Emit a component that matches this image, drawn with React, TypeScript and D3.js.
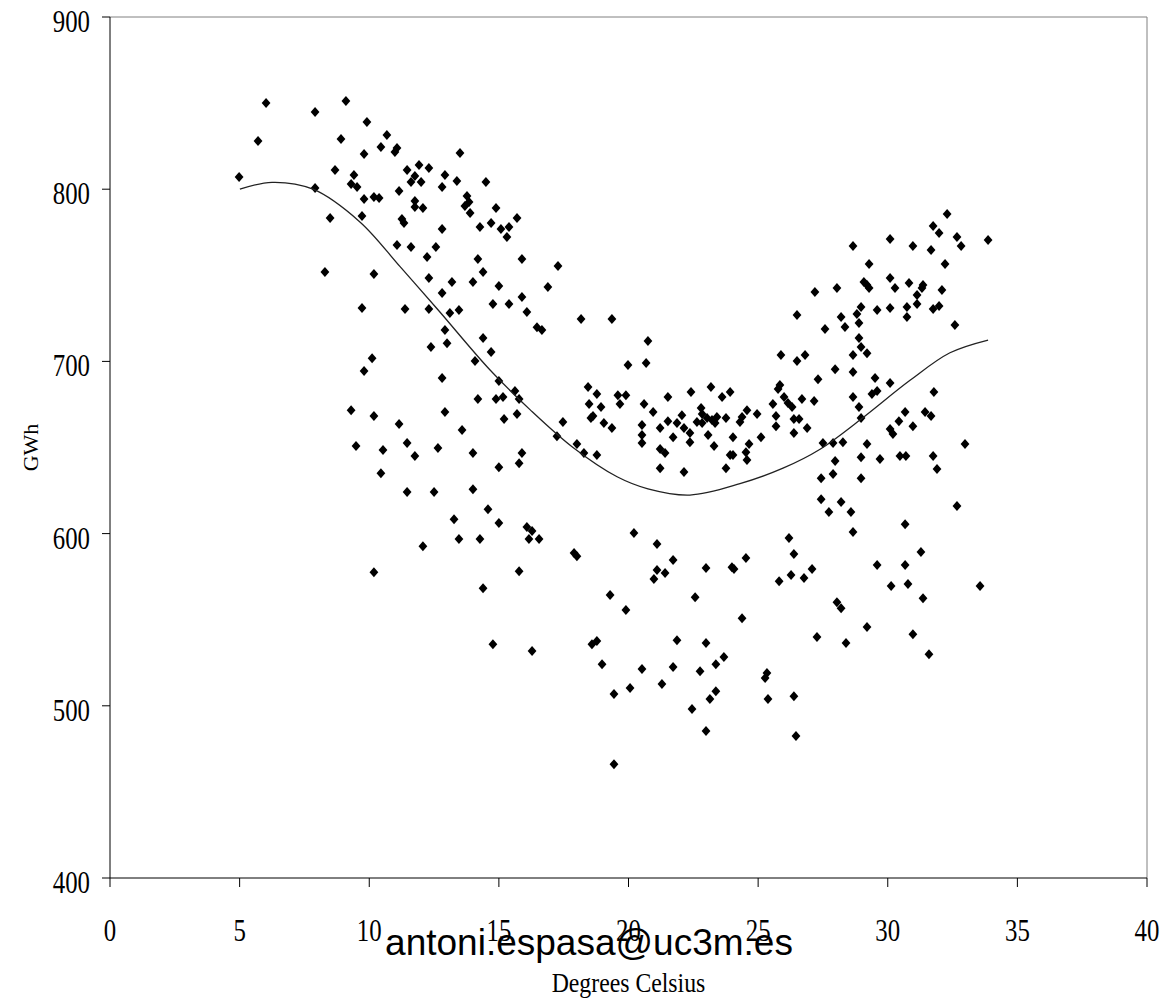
import React from 'react';
import * as d3 from 'd3';

// Scatter: daily temperature (°C) vs electricity demand (GWh)
const temperature = [
  4.98, 5.71, 6.02, 7.91, 9.10, 9.91, 8.91, 9.80, 10.68, 10.45,
  11.07, 10.99, 8.68, 9.41, 9.30, 9.53, 7.91, 9.80, 10.18, 10.38,
  11.15, 11.46, 11.92, 12.30, 11.76, 11.61, 12.00, 11.76, 11.76, 12.07,
  9.72, 8.49, 11.26, 11.34, 11.07, 11.61, 12.57, 12.23, 12.30, 8.29,
  10.18, 9.72, 11.38, 12.30, 12.38, 10.11, 9.80, 9.30, 10.18, 11.15,
  9.49, 10.53, 11.46, 11.76, 12.65, 10.45, 11.46, 12.50, 12.07, 10.18,
  13.50, 12.92, 12.81, 13.38, 14.50, 13.77, 13.85, 13.69, 13.89, 14.89,
  15.70, 14.70, 14.27, 15.08, 15.39, 15.31, 12.81, 14.19, 15.89, 17.28,
  14.39, 13.19, 14.00, 15.00, 16.89, 12.81, 15.89, 14.77, 15.39, 16.08,
  13.11, 13.46, 16.47, 16.66, 18.17, 19.36, 12.92, 14.39, 13.00, 14.70,
  14.08, 20.75, 19.98, 20.68, 12.81, 15.00, 15.62, 15.78, 14.19, 14.89,
  15.16, 18.44, 18.78, 18.48, 18.94, 18.63, 18.55, 19.05, 19.36, 19.59,
  19.90, 19.67, 20.60, 20.52, 20.52, 20.52, 12.92, 15.70, 15.20, 17.47,
  13.58, 17.24, 18.01, 14.00, 15.89, 15.78, 15.00, 18.28, 18.78, 14.00,
  14.58, 13.27, 15.00, 13.46, 14.27, 16.08, 16.28, 16.16, 16.55, 17.90,
  18.01, 20.21, 15.78, 14.39, 19.29, 19.90, 14.77, 16.28, 18.59, 18.78,
  18.98, 20.52, 20.06, 19.44, 19.44, 26.50, 25.88, 26.50, 26.81, 27.31,
  25.84, 25.77, 26.00, 26.15, 26.31, 26.69, 27.16, 25.57, 25.69, 25.69,
  26.38, 26.58, 26.89, 26.38, 23.18, 22.41, 23.92, 23.61, 21.52, 20.95,
  22.80, 22.84, 24.57, 24.96, 24.38, 24.30, 23.76, 22.06, 21.87, 21.52,
  22.14, 21.22, 22.64, 22.84, 23.03, 23.22, 23.41, 23.34, 22.37, 22.37,
  21.72, 23.07, 23.30, 24.03, 25.11, 24.65, 24.53, 24.57, 23.92, 24.03,
  21.22, 21.41, 21.22, 22.14, 23.76, 21.10, 21.72, 21.10, 21.41, 20.98,
  22.99, 23.99, 24.07, 24.53, 26.19, 26.38, 25.81, 26.27, 26.77, 27.08,
  22.57, 24.38, 27.27, 21.87, 22.99, 23.68, 23.37, 22.76, 21.72, 21.29,
  25.34, 25.27, 23.37, 23.14, 25.38, 26.38, 22.45, 22.99, 26.46, 32.29,
  31.75, 31.98, 32.67, 32.83, 33.87, 30.09, 28.66, 30.97, 31.67, 32.21,
  29.28, 30.09, 30.82, 31.36, 31.32, 31.13, 30.28, 29.08, 29.20, 29.28,
  28.04, 27.19, 32.09, 31.13, 30.09, 30.74, 30.74, 29.59, 28.97, 28.81,
  28.89, 28.20, 28.35, 27.58, 31.75, 31.98, 32.59, 28.89, 28.97, 28.66,
  29.20, 27.97, 28.66, 29.51, 30.09, 29.39, 29.59, 28.66, 28.89, 28.97,
  31.78, 30.67, 31.44, 31.67, 30.43, 30.97, 30.09, 30.20, 27.50, 27.89,
  28.27, 29.20, 32.98, 27.97, 28.97, 29.70, 30.47, 30.70, 31.75, 31.90,
  27.89, 27.43, 28.97, 27.43, 28.20, 27.73, 28.58, 28.66, 32.67, 30.67,
  31.28, 29.59, 30.67, 30.13, 30.78, 33.56, 31.36, 28.04, 28.20, 29.20,
  28.39, 30.97, 31.59,
];

const gwh = [
  807.1, 828.0, 850.0, 844.8, 851.2, 839.0, 829.1, 820.4, 831.5, 824.5,
  823.9, 821.6, 811.1, 808.2, 803.0, 801.3, 800.7, 794.3, 795.5, 794.9,
  798.9, 811.1, 814.0, 812.3, 807.6, 804.2, 804.2, 793.1, 789.6, 789.1,
  784.4, 783.3, 782.7, 780.3, 767.6, 766.4, 766.4, 760.6, 748.4, 751.9,
  750.7, 731.0, 730.4, 730.4, 708.3, 701.9, 694.4, 671.7, 668.3, 663.6,
  650.8, 648.5, 652.6, 645.0, 649.7, 635.1, 624.1, 624.1, 592.7, 577.6,
  821.0, 808.2, 801.3, 804.7, 804.2, 796.0, 792.5, 790.2, 786.2, 789.1,
  783.3, 780.3, 778.0, 776.9, 778.0, 772.2, 776.9, 759.4, 759.4, 755.4,
  751.9, 746.1, 746.1, 743.8, 743.2, 739.7, 737.4, 733.3, 733.3, 728.7,
  728.1, 729.8, 719.9, 718.2, 724.6, 724.6, 718.2, 713.6, 710.6, 705.4,
  700.2, 711.8, 697.9, 699.0, 690.3, 688.6, 682.8, 678.1, 678.1, 678.1,
  679.3, 685.1, 681.0, 675.2, 673.5, 668.3, 667.1, 664.2, 661.3, 680.4,
  680.4, 675.2, 675.2, 663.0, 657.2, 652.6, 670.6, 669.4, 666.5, 664.8,
  660.1, 656.6, 652.0, 646.8, 646.8, 640.9, 638.6, 646.8, 645.6, 625.8,
  614.2, 608.4, 606.1, 596.8, 596.8, 603.8, 601.5, 596.8, 596.8, 588.7,
  586.9, 600.3, 578.2, 568.3, 564.3, 555.6, 535.8, 531.8, 535.8, 537.6,
  524.2, 521.3, 510.3, 506.8, 466.1, 726.9, 703.7, 700.2, 703.7, 689.7,
  686.3, 683.9, 679.3, 675.8, 673.5, 678.1, 677.0, 675.2, 668.3, 662.4,
  666.5, 666.5, 661.3, 658.4, 685.1, 682.2, 682.2, 679.3, 679.3, 670.6,
  672.9, 669.4, 671.7, 669.4, 667.7, 664.8, 667.1, 668.8, 664.2, 665.3,
  661.3, 661.3, 664.8, 664.2, 667.1, 665.9, 667.7, 664.2, 658.4, 653.1,
  656.0, 657.2, 650.8, 656.0, 656.0, 652.0, 647.3, 642.7, 645.6, 645.6,
  649.1, 646.8, 638.0, 635.7, 638.0, 593.9, 584.6, 578.8, 577.1, 573.6,
  580.0, 580.5, 579.4, 585.8, 597.4, 588.1, 572.4, 575.9, 574.2, 579.4,
  563.1, 550.9, 539.9, 538.1, 536.4, 528.3, 524.2, 520.1, 522.5, 512.6,
  519.0, 516.1, 508.5, 503.9, 503.9, 505.6, 498.1, 485.3, 482.4, 785.6,
  778.6, 774.5, 772.2, 767.0, 770.5, 771.1, 767.0, 767.0, 764.7, 756.5,
  756.5, 748.4, 745.5, 744.3, 742.6, 738.5, 742.6, 746.1, 744.3, 742.6,
  742.6, 740.3, 741.4, 733.3, 731.0, 731.6, 725.8, 729.8, 731.6, 727.5,
  722.3, 725.8, 720.0, 718.8, 730.4, 732.1, 721.1, 713.6, 708.3, 703.7,
  704.8, 695.5, 693.8, 690.3, 687.4, 681.0, 682.8, 679.3, 673.5, 667.1,
  682.2, 670.6, 670.6, 668.3, 665.3, 662.4, 660.7, 657.8, 652.6, 652.6,
  653.1, 652.0, 652.0, 642.1, 644.4, 643.3, 645.0, 645.0, 645.0, 637.5,
  634.6, 632.2, 632.2, 620.0, 618.3, 612.5, 612.5, 600.9, 616.0, 605.5,
  589.3, 581.7, 581.7, 569.5, 570.7, 569.5, 562.5, 560.2, 556.7, 545.7,
  536.4, 541.6, 530.0,
];

// Fitted curve
const fitTemperature = [5.01, 6.25, 7.83, 9.64, 11.19, 12.65, 14.66, 16.2, 17.86, 19.56, 20.75, 22.37, 24.3, 25.96, 27.39, 28.93, 30.86, 32.4, 33.87];
const fitGwh = [800, 804, 800, 781, 755, 730, 695, 672, 650, 633, 626, 622.4, 629, 638, 649, 666, 689, 705, 712.4];

const xTicks = [0, 5, 10, 15, 20, 25, 30, 35, 40];
const yTicks = [400, 500, 600, 700, 800, 900];

const xTitle = 'Degrees Celsius';
const yTitle = 'GWh';
const watermark = 'antoni.espasa@uc3m.es';

export default function App() {
  const W = 1161;
  const H = 1006;
  const x = d3.scaleLinear().domain([0, 40]).range([110, 1147]);
  const y = d3.scaleLinear().domain([400, 900]).range([878, 17]);
  const [x0, x1] = x.range();
  const [y0, y1] = y.range();

  const fitPath = d3
    .line<number>()
    .x((_, i) => x(fitTemperature[i]))
    .y((d) => y(d))
    .curve(d3.curveCatmullRom.alpha(0.5))(fitGwh) as string;

  const diamond = 'M0,-5L4.4,0L0,5L-4.4,0Z';
  const serif = '"Liberation Serif", "Times New Roman", serif';

  return (
    <svg
      width={W}
      height={H}
      viewBox={`0 0 ${W} ${H}`}
      style={{ position: 'absolute', left: 0, top: 0, display: 'block', background: '#fff' }}
    >
      <rect x={0} y={0} width={W} height={H} fill="#fff" />
      {/* frame */}
      <line x1={x0} x2={x1} y1={y1} y2={y1} stroke="#808080" strokeWidth={1} />
      <line x1={x1} x2={x1} y1={y1} y2={y0} stroke="#808080" strokeWidth={1} />
      {/* axes */}
      <line x1={x0} x2={x0} y1={y1} y2={y0} stroke="#000" strokeWidth={1} />
      <line x1={x0} x2={x1} y1={y0} y2={y0} stroke="#000" strokeWidth={1} />
      {yTicks.map((t) => (
        <g key={'y' + t}>
          <line x1={x0 - 8} x2={x0} y1={y(t)} y2={y(t)} stroke="#000" strokeWidth={1} />
          <text
            transform={`translate(${x0 - 20},${y(t) + 15}) scale(0.92,1.2)`}
            textAnchor="end"
            fontFamily={serif}
            fontSize={27}
            fill="#000"
          >
            {t}
          </text>
        </g>
      ))}
      {xTicks.map((t) => (
        <g key={'x' + t}>
          <line x1={x(t)} x2={x(t)} y1={y0} y2={y0 + 9} stroke="#000" strokeWidth={1} />
          <text
            transform={`translate(${x(t)},941) scale(0.92,1.2)`}
            textAnchor="middle"
            fontFamily={serif}
            fontSize={27}
            fill="#000"
          >
            {t}
          </text>
        </g>
      ))}
      {/* points */}
      {gwh.map((v, i) => (
        <path key={i} d={diamond} transform={`translate(${x(temperature[i])},${y(v)})`} fill="#000" />
      ))}
      {/* fitted curve */}
      <path d={fitPath} fill="none" stroke="#222" strokeWidth={1.3} />
      {/* titles */}
      <text
        transform={`translate(38,${(y0 + y1) / 2}) rotate(-90)`}
        textAnchor="middle"
        fontFamily={serif}
        fontSize={22}
        fill="#000"
      >
        {yTitle}
      </text>
      <text
        transform={`translate(${(x0 + x1) / 2},992) scale(0.95,1.12)`}
        textAnchor="middle"
        fontFamily={serif}
        fontSize={25}
        fill="#000"
      >
        {xTitle}
      </text>
      <text
        x={589}
        y={955}
        textAnchor="middle"
        fontFamily={'"Liberation Sans", Arial, sans-serif'}
        fontSize={37}
        fill="#000"
      >
        {watermark}
      </text>
    </svg>
  );
}
